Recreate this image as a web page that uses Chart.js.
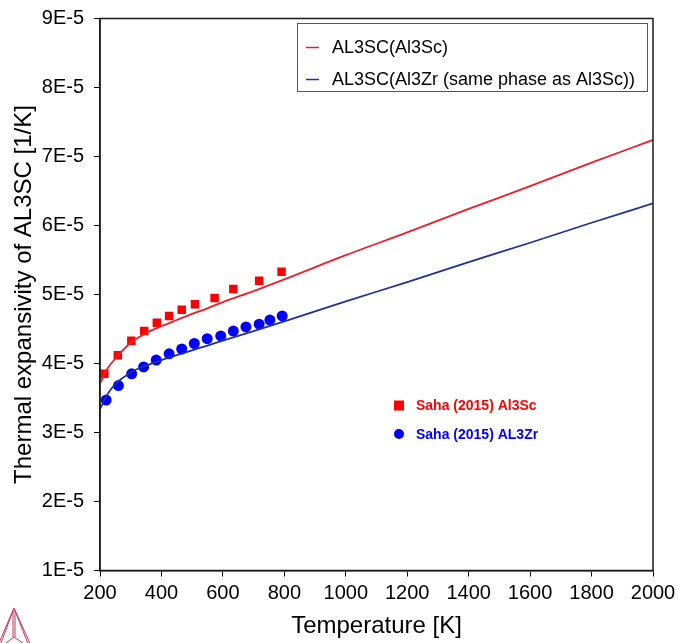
<!DOCTYPE html>
<html>
<head>
<meta charset="utf-8">
<script src="https://cdn.jsdelivr.net/npm/chart.js@4.4.1/dist/chart.umd.min.js"></script>
<style>
  html, body { margin: 0; padding: 0; background: #fff; }
  #wrap { width: 678px; height: 643px; }
</style>
</head>
<body>
<div id="wrap"><canvas id="chart" width="678" height="643"></canvas></div>
<script>
// calculated curves (values in units of 1E-5 1/K)
const calcTemps = [200, 225, 250, 300, 350, 400, 450, 500, 550, 600, 700, 800, 1000, 1200, 1400, 1600, 1800, 2000];
const al3scCalc = [3.71, 3.93, 4.07, 4.30, 4.44, 4.54, 4.63, 4.72, 4.80, 4.89, 5.05, 5.22, 5.57, 5.90, 6.24, 6.57, 6.91, 7.24];
const al3zrCalc = [3.34, 3.56, 3.70, 3.87, 3.97, 4.05, 4.12, 4.19, 4.26, 4.33, 4.47, 4.61, 4.90, 5.18, 5.47, 5.75, 6.04, 6.32];

// experimental points, Saha (2015)
const sahaScTemps = [214, 258, 302, 344, 385, 425, 466, 509, 573, 634, 718, 791];
const sahaScVals  = [3.85, 4.12, 4.33, 4.47, 4.59, 4.69, 4.78, 4.86, 4.95, 5.08, 5.20, 5.33];
const sahaZrTemps = [220, 260, 303, 342, 383, 425, 466, 507, 549, 593, 634, 675, 718, 753, 793];
const sahaZrVals  = [3.47, 3.68, 3.85, 3.95, 4.05, 4.14, 4.21, 4.29, 4.36, 4.40, 4.47, 4.53, 4.57, 4.63, 4.69];

const lineLabels = ['AL3SC(Al3Sc)', 'AL3SC(Al3Zr (same phase as Al3Sc))'];
const pointLabels = ['Saha (2015) Al3Sc', 'Saha (2015) AL3Zr'];

const RED_LINE = '#e8202a';
const BLUE_LINE = '#1f3391';
const RED_PT = '#ff0000';
const BLUE_PT = '#0000ff';
const FONT = '"Liberation Sans", Arial, sans-serif';

const toXY = (xs, ys) => xs.map((x, i) => ({ x: x, y: ys[i] }));

// frame round the plot area
const framePlugin = {
  id: 'frame',
  afterDatasetsDraw(chart) {
    const { ctx, chartArea: a } = chart;
    ctx.save();
    ctx.strokeStyle = '#1a1a1a';
    ctx.lineWidth = 1.5;
    ctx.strokeRect(a.left, a.top, a.right - a.left, a.bottom - a.top);
    ctx.restore();
  }
};

// the two legends drawn inside the plot
const legendPlugin = {
  id: 'legends',
  afterDraw(chart) {
    const ctx = chart.ctx;
    ctx.save();
    // line legend box
    ctx.fillStyle = '#fff';
    ctx.fillRect(297.5, 23.5, 350, 68);
    ctx.strokeStyle = '#555';
    ctx.lineWidth = 1;
    ctx.strokeRect(297.5, 23.5, 350, 68);
    const lineCols = [RED_LINE, BLUE_LINE];
    ctx.font = '18px ' + FONT;
    ctx.textBaseline = 'middle';
    lineLabels.forEach((t, i) => {
      const y = 47.5 + i * 32;
      ctx.strokeStyle = lineCols[i];
      ctx.lineWidth = 1.5;
      ctx.beginPath();
      ctx.moveTo(306, y);
      ctx.lineTo(319, y);
      ctx.stroke();
      ctx.fillStyle = '#000';
      ctx.fillText(t, 332, y + 1);
    });
    // data legend
    ctx.font = 'bold 14px ' + FONT;
    ctx.fillStyle = RED_PT;
    ctx.fillRect(394, 400.5, 10, 10);
    ctx.fillText(pointLabels[0], 416, 406.5);
    ctx.fillStyle = BLUE_PT;
    ctx.beginPath();
    ctx.arc(399, 434, 5, 0, Math.PI * 2);
    ctx.fill();
    ctx.fillText(pointLabels[1], 416, 435);
    ctx.restore();
  }
};

// small triangle logo bottom left
const logoPlugin = {
  id: 'logo',
  afterDraw(chart) {
    const ctx = chart.ctx;
    ctx.save();
    ctx.strokeStyle = '#c0385e';
    ctx.lineWidth = 1;
    const ax = 14, ay = 608, cx = 14, cy = 637;
    [[0, 0], [2.5, 2]].forEach(([d, e]) => {
      ctx.beginPath();
      ctx.moveTo(ax - d * 0.3, ay + e);
      ctx.lineTo(-4 + d, 650);
      ctx.moveTo(ax + d * 0.3, ay + e);
      ctx.lineTo(33 - d, 650);
      ctx.stroke();
    });
    ctx.beginPath();
    ctx.moveTo(ax - 1, ay + 3); ctx.lineTo(cx - 1, cy);
    ctx.moveTo(ax + 1, ay + 3); ctx.lineTo(cx + 1, cy);
    ctx.moveTo(cx, cy); ctx.lineTo(2, 646);
    ctx.moveTo(cx, cy); ctx.lineTo(27, 646);
    ctx.stroke();
    ctx.restore();
  }
};

new Chart(document.getElementById('chart'), {
  type: 'scatter',
  data: {
    datasets: [
      {
        label: lineLabels[0],
        data: toXY(calcTemps, al3scCalc),
        showLine: true,
        borderColor: RED_LINE,
        borderWidth: 1.8,
        pointRadius: 0,
        cubicInterpolationMode: 'monotone'
      },
      {
        label: lineLabels[1],
        data: toXY(calcTemps, al3zrCalc),
        showLine: true,
        borderColor: BLUE_LINE,
        borderWidth: 1.8,
        pointRadius: 0,
        cubicInterpolationMode: 'monotone'
      },
      {
        label: pointLabels[0],
        data: toXY(sahaScTemps, sahaScVals),
        pointStyle: 'rect',
        pointRadius: 6,
        backgroundColor: RED_PT,
        borderColor: RED_PT,
        borderWidth: 0
      },
      {
        label: pointLabels[1],
        data: toXY(sahaZrTemps, sahaZrVals),
        pointStyle: 'circle',
        pointRadius: 5.5,
        backgroundColor: BLUE_PT,
        borderColor: BLUE_PT,
        borderWidth: 0
      }
    ]
  },
  options: {
    responsive: false,
    animation: false,
    devicePixelRatio: 1,
    layout: { padding: { left: 0, right: 25, top: 18.5, bottom: 0 } },
    plugins: { legend: { display: false }, tooltip: { enabled: false } },
    scales: {
      x: {
        type: 'linear',
        min: 200,
        max: 2000,
        afterFit: (s) => { s.height = 72.5; s.paddingLeft = 0; s.paddingRight = 0; },
        grid: { drawOnChartArea: false, tickLength: 6, color: '#000', tickWidth: 1 },
        border: { color: '#1a1a1a', width: 1.5 },
        ticks: {
          stepSize: 200,
          color: '#000',
          padding: 5,
          font: { family: FONT, size: 20 },
          maxRotation: 0,
          callback: (v) => String(v)
        },
        title: { display: true, text: 'Temperature [K]', color: '#000', font: { family: FONT, size: 24 }, padding: { top: 0, bottom: 2 } }
      },
      y: {
        type: 'linear',
        min: 1,
        max: 9,
        afterFit: (s) => { s.width = 100; s.paddingTop = 0; s.paddingBottom = 0; },
        grid: { drawOnChartArea: false, tickLength: 6, color: '#000', tickWidth: 1 },
        border: { color: '#1a1a1a', width: 1.5 },
        ticks: {
          stepSize: 1,
          color: '#000',
          padding: 10,
          font: { family: FONT, size: 20 },
          callback: (v) => Math.round(v) + 'E-5'
        },
        title: { display: true, text: 'Thermal expansivity of AL3SC [1/K]', color: '#000', font: { family: FONT, size: 24 }, padding: { top: 10, bottom: 0 } }
      }
    }
  },
  plugins: [framePlugin, legendPlugin, logoPlugin]
});
</script>
</body>
</html>
